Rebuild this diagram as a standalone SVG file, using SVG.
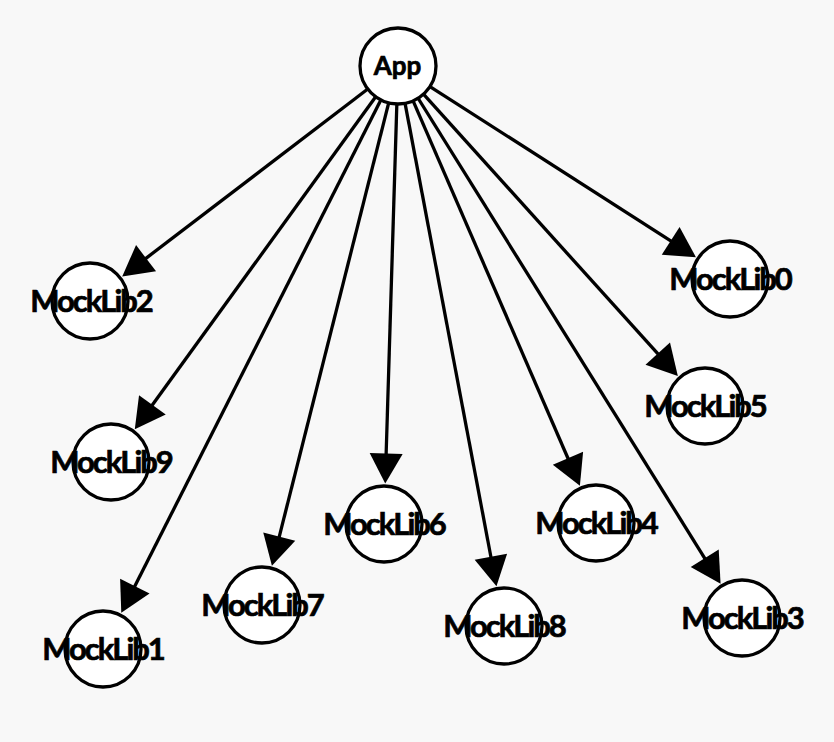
<svg xmlns="http://www.w3.org/2000/svg" width="834" height="742" viewBox="0 0 834 742">
  <style>
    .node circle { fill: #ffffff; stroke: #000000; stroke-width: 3.3; }
    .node text { font-family: Lato, "Open Sans", sans-serif; font-weight: bold; fill: #000000; stroke: #000000; stroke-width: 0.7; text-anchor: middle; }
    .lib text { font-size: 31px; letter-spacing: -2px; }
    .root text { font-size: 26px; }
    .edges line { stroke: #000000; stroke-width: 3.3; marker-end: url(#arrow); }
  </style>
  <defs>
    <marker id="arrow" markerUnits="userSpaceOnUse" markerWidth="32" markerHeight="33" refX="1" refY="16.5" orient="auto" overflow="visible">
      <path d="M0,0 L30,16.5 L0,33 z" fill="#000000"/>
    </marker>
  </defs>
  <rect width="834" height="742" fill="#f8f8f8"/>

  <g id="edges" class="edges">
    <line x1="429.98" y1="86.52" x2="671.5" y2="241.47"/>
    <line x1="380.84" y1="99.91" x2="134.38" y2="586.98"/>
    <line x1="367.79" y1="89.05" x2="145.25" y2="258.84"/>
    <line x1="418.10" y1="98.25" x2="705.24" y2="559.02"/>
    <line x1="413.11" y1="100.87" x2="568.37" y2="459.22"/>
    <line x1="423.47" y1="94.20" x2="658.42" y2="354.41"/>
    <line x1="396.84" y1="103.98" x2="386.13" y2="454.53"/>
    <line x1="388.70" y1="102.84" x2="279.01" y2="537.61"/>
    <line x1="405.07" y1="103.34" x2="491.07" y2="557.71"/>
    <line x1="375.70" y1="96.77" x2="151.78" y2="405.73"/>
  </g>

  <g id="App" class="node root">
    <circle cx="398" cy="66" r="38"/>
    <text x="397.5" y="75">App</text>
  </g>
  <g id="MockLib0" class="node lib">
    <circle cx="730" cy="279" r="38"/>
    <text x="730" y="290">MockLib0</text>
  </g>
  <g id="MockLib1" class="node lib">
    <circle cx="103" cy="649" r="38"/>
    <text x="103" y="660">MockLib1</text>
  </g>
  <g id="MockLib2" class="node lib">
    <circle cx="90" cy="301" r="38"/>
    <text x="91" y="312">MockLib2</text>
  </g>
  <g id="MockLib3" class="node lib">
    <circle cx="742" cy="618" r="38"/>
    <text x="742" y="629">MockLib3</text>
  </g>
  <g id="MockLib4" class="node lib">
    <circle cx="596" cy="523" r="38"/>
    <text x="596" y="534">MockLib4</text>
  </g>
  <g id="MockLib5" class="node lib">
    <circle cx="705" cy="406" r="38"/>
    <text x="705" y="417">MockLib5</text>
  </g>
  <g id="MockLib6" class="node lib">
    <circle cx="384" cy="524" r="38"/>
    <text x="384" y="535">MockLib6</text>
  </g>
  <g id="MockLib7" class="node lib">
    <circle cx="262" cy="605" r="38"/>
    <text x="262" y="616">MockLib7</text>
  </g>
  <g id="MockLib8" class="node lib">
    <circle cx="504" cy="626" r="38"/>
    <text x="504" y="637">MockLib8</text>
  </g>
  <g id="MockLib9" class="node lib">
    <circle cx="111" cy="462" r="38"/>
    <text x="111" y="473">MockLib9</text>
  </g>
</svg>
